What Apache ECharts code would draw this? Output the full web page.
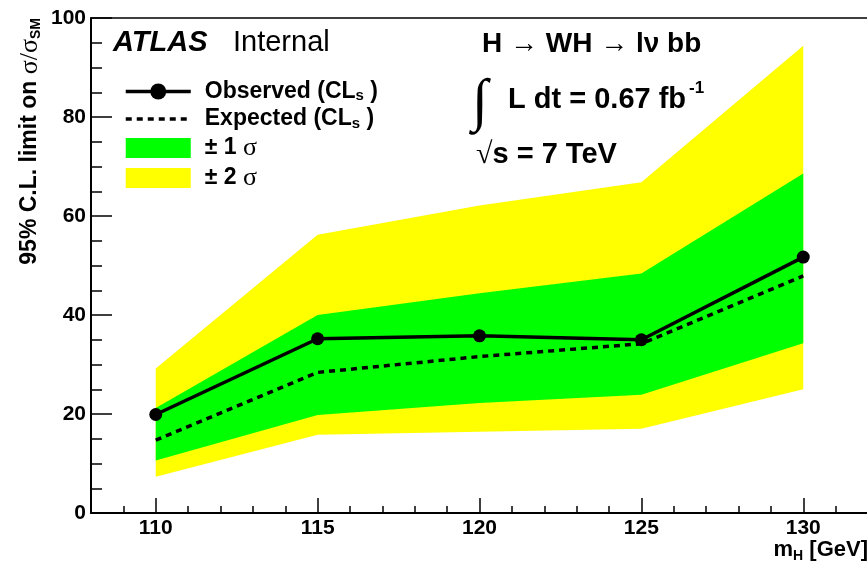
<!DOCTYPE html>
<html><head><meta charset="utf-8">
<script src="https://cdn.jsdelivr.net/npm/echarts@6/dist/echarts.min.js"></script>
<style>html,body{margin:0;padding:0;background:#fff}#c{width:867px;height:564px}</style>
</head><body><div id="c"></div>
<script>
// ---- data ----
const masses     = [110, 115, 120, 125, 130];
const observed   = [19.9, 35.2, 35.8, 35.0, 51.7];
const expected   = [14.7, 28.4, 31.6, 34.2, 47.9];
const sigma1Low  = [10.6, 19.8, 22.2, 23.9, 34.3];
const sigma1High = [21.2, 40.0, 44.4, 48.4, 68.6];
const sigma2Low  = [7.3, 15.8, 16.4, 17.0, 25.0];
const sigma2High = [29.2, 56.2, 62.1, 66.8, 94.4];
const majorTicks = [110, 115, 120, 125, 130];

const F = 'Liberation Sans, Arial, Helvetica, sans-serif';
const S = 'Liberation Serif, Times New Roman, serif';
const chart = echarts.init(document.getElementById('c'));
const pairs = arr => masses.map((m, i) => [m, arr[i]]);
const triples = (lo, hi) => masses.map((m, i) => [m, lo[i], hi[i]]);

function bandRender(params, api) {
  if (params.dataIndexInside !== 0) return null;
  const n = params.dataInsideLength;
  const upper = [], lower = [];
  for (let i = 0; i < n; i++) {
    const x = api.value(0, i);
    upper.push(api.coord([x, api.value(2, i)]));
    lower.push(api.coord([x, api.value(1, i)]));
  }
  return {type:'polygon', shape:{points: upper.concat(lower.reverse())},
          style:{fill: api.visual('color'), stroke:'none'}};
}

const legendRich = {
  a:{fontFamily:F, fontWeight:'bold', fontSize:23, color:'#000', lineHeight:24},
  s:{fontFamily:F, fontWeight:'bold', fontSize:15, color:'#000', lineHeight:10, verticalAlign:'bottom'},
  g:{fontFamily:S, fontSize:26, color:'#000', lineHeight:24}
};
const legendLabels = {
  'Observed':'{a|Observed (CL}{s|s}{a| )}',
  'Expected':'{a|Expected (CL}{s|s}{a| )}',
  '± 1 σ':'{a|± 1 }{g|σ}',
  '± 2 σ':'{a|± 2 }{g|σ}'
};

chart.setOption({
  animation:false,
  backgroundColor:'#fff',
  grid:{left:91, right:-1, top:18, bottom:51, containLabel:false, outerBoundsMode:'none'},
  legend:{
    orient:'vertical', left:124, top:80, padding:0, itemGap:4,
    itemWidth:65, itemHeight:20, selectedMode:false,
    formatter: n => legendLabels[n],
    textStyle:{padding:[0,0,0,9], rich:legendRich},
    data:[
      {name:'Observed', lineStyle:{width:3.5, color:'#000'}},
      {name:'Expected', itemStyle:{opacity:0}, lineStyle:{width:3.5, color:'#000', type:[6,5]}},
      {name:'± 1 σ', icon:'rect', itemStyle:{color:'#00ff00'}},
      {name:'± 2 σ', icon:'rect', itemStyle:{color:'#ffff00'}}
    ]
  },
  xAxis:[
    {type:'value', min:108, max:132, interval:1, position:'bottom',
     axisLine:{lineStyle:{color:'#000', width:2}},
     axisTick:{inside:true, length:7, lineStyle:{color:'#000', width:1.5}},
     axisLabel:{formatter: v => majorTicks.includes(v) ? String(v) : '',
       color:'#000', fontFamily:F, fontWeight:'bold', fontSize:21, margin:5},
     splitLine:{show:false},
     name:'{m|m}{s|H}{m| [GeV]}', nameLocation:'end', nameGap:0, nameMoveOverlap:false,
     nameTextStyle:{align:'right', verticalAlign:'top', padding:[24,0,0,0],
       rich:{m:{fontFamily:F, fontWeight:'bold', fontSize:22, color:'#000', lineHeight:26},
             s:{fontFamily:F, fontWeight:'bold', fontSize:14, color:'#000', lineHeight:12, verticalAlign:'bottom'}}}
    },
    {type:'value', min:108, max:132, interval:1, position:'bottom',
     axisLine:{show:false},
     axisTick:{inside:true, length:15, customValues:majorTicks, lineStyle:{color:'#000', width:1.5}},
     axisLabel:{show:false}, splitLine:{show:false}
    },
    {type:'value', min:108, max:132, interval:1, position:'top',
     axisLine:{lineStyle:{color:'#000', width:1.5}},
     axisTick:{show:false}, axisLabel:{show:false}, splitLine:{show:false}
    }
  ],
  yAxis:{
    type:'value', min:0, max:100, interval:20,
    axisLine:{show:true, lineStyle:{color:'#000', width:2}},
    axisTick:{inside:true, length:21, lineStyle:{color:'#000', width:1.5}},
    minorTick:{show:true, splitNumber:4, length:11, lineStyle:{color:'#000', width:1.5}},
    splitLine:{show:false}, minorSplitLine:{show:false},
    axisLabel:{color:'#000', fontFamily:F, fontWeight:'bold', fontSize:21, margin:5},
    name:'{a|95% C.L. limit on }{g|σ/σ}{s|SM}', nameLocation:'end', nameRotate:90, nameGap:0,
    nameMoveOverlap:false,
    nameTextStyle:{align:'right', verticalAlign:'bottom', padding:[0,0,48,0],
      rich:{a:{fontFamily:F, fontWeight:'bold', fontSize:23, color:'#000', lineHeight:26},
            g:{fontFamily:S, fontSize:26, color:'#000', lineHeight:26},
            s:{fontFamily:F, fontWeight:'bold', fontSize:14, color:'#000', lineHeight:11, verticalAlign:'bottom'}}}
  },
  series:[
    {name:'± 2 σ', type:'custom', renderItem:bandRender, data:triples(sigma2Low, sigma2High),
     encode:{x:0, y:[1, 2]}, itemStyle:{color:'#ffff00'}, z:1, silent:true},
    {name:'± 1 σ', type:'custom', renderItem:bandRender, data:triples(sigma1Low, sigma1High),
     encode:{x:0, y:[1, 2]}, itemStyle:{color:'#00ff00'}, z:2, silent:true},
    {name:'Expected', type:'line', data:pairs(expected), symbol:'none', z:5, color:'#000',
     lineStyle:{color:'#000', width:3.5, type:[6,5]}},
    {name:'Observed', type:'line', data:pairs(observed), symbol:'circle', symbolSize:13, z:6, color:'#000',
     itemStyle:{color:'#000'}, lineStyle:{color:'#000', width:3.5}}
  ],
  graphic:[
    {type:'text', x:113, y:43, style:{text:'ATLAS', font:'italic bold 29px '+F, fill:'#000', verticalAlign:'middle'}},
    {type:'text', x:233, y:43, style:{text:'Internal', font:'29px '+F, fill:'#000', verticalAlign:'middle'}},
    {type:'text', x:482, y:44, style:{text:'H → WH → lν bb', font:'bold 28px '+F, fill:'#000', verticalAlign:'middle'}},
    {type:'text', x:472, y:104, style:{text:'∫', font:'58px '+S, fill:'#000', verticalAlign:'middle'}},
    {type:'text', x:508, y:100, style:{text:'L dt = 0.67 fb', font:'bold 29px '+F, fill:'#000', verticalAlign:'middle'}},
    {type:'text', x:689, y:88, style:{text:'-1', font:'bold 17px '+F, fill:'#000', verticalAlign:'middle'}},
    {type:'text', x:476, y:155, style:{text:'{r|√}{b|s = 7 TeV}', verticalAlign:'middle',
      rich:{r:{fontFamily:S, fontSize:30, fill:'#000', lineHeight:32},
            b:{fontFamily:F, fontWeight:'bold', fontSize:29, fill:'#000', lineHeight:32}}}}
  ]
});
</script></body></html>
